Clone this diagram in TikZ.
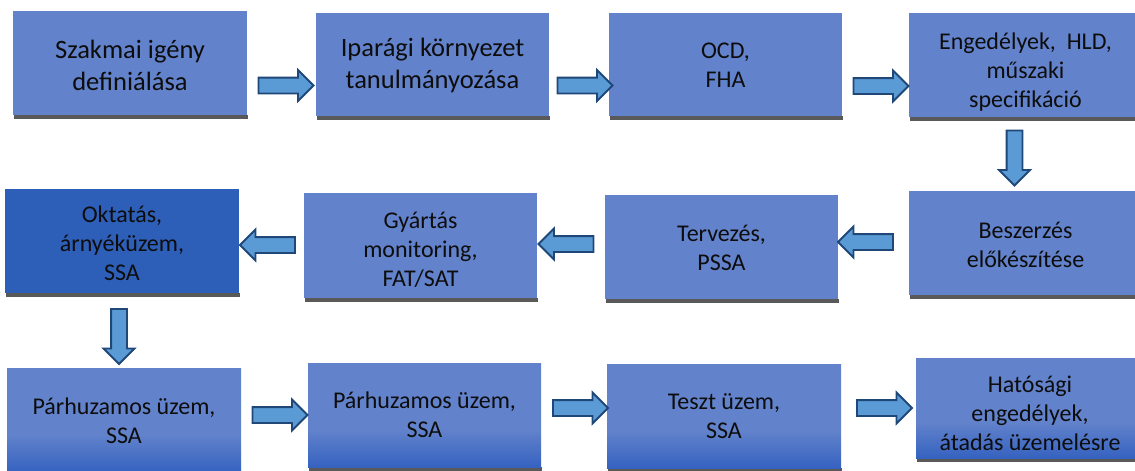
\documentclass[tikz,border=0pt]{standalone}
\usepackage{fontspec}
\setmainfont{Carlito}
\usetikzlibrary{shapes.arrows}
\definecolor{boxblue}{RGB}{98,130,203}
\definecolor{darkbox}{RGB}{46,95,184}
\definecolor{gbot}{RGB}{53,98,192}
\definecolor{arrowfill}{RGB}{91,155,213}
\definecolor{arrowline}{RGB}{31,72,120}
\definecolor{shadowc}{RGB}{89,89,89}
\definecolor{txtc}{RGB}{13,13,13}
\pgfdeclareverticalshading{rowthree}{100bp}{color(0bp)=(gbot); color(25bp)=(gbot); color(43bp)=(boxblue); color(100bp)=(boxblue)}
\tikzset{
  flowbox/.style={rectangle, fill=boxblue, draw=none, inner sep=0pt, anchor=north west},
  darkflow/.style={flowbox, fill=darkbox},
  gradflow/.style={flowbox, shading=rowthree},
  boxtext/.style={align=center, text=txtc, inner sep=0pt, font=\fontsize{24}{29}\selectfont},
  bigtext/.style={boxtext, font=\fontsize{26.5}{32}\selectfont},
  barrow/.style={single arrow, draw=arrowline, fill=arrowfill, line width=1.9pt,
     minimum height=55pt, inner xsep=0pt, inner ysep=7pt, single arrow head extend=7.5pt,
     single arrow tip angle=90},
}
\newcommand\mkbox[6]{%
  % #1 name, #2 style, #3 left, #4 top, #5 right, #6 bottom
  \fill[shadowc] (#3+1,#6) rectangle (#5+1,#6+4);
  \node[#2, minimum width={(#5-#3)*1pt}, minimum height={(#6-#4)*1pt}] (#1) at (#3,#4) {};
}
\begin{document}
\begin{tikzpicture}[x=1pt,y=-1pt]
\useasboundingbox (0,0) rectangle (1135,471);
\begin{scope}
\clip (0,0) rectangle (1135,471);
% row 1
\mkbox{b1}{flowbox}{13}{11}{247}{115}
\mkbox{b2}{flowbox}{316}{13}{549}{116}
\mkbox{b3}{flowbox}{609}{13}{842}{116}
\mkbox{b4}{flowbox}{909}{13}{1142}{117}
% row 2
\mkbox{b5}{darkflow}{5}{189}{239}{293}
\mkbox{b6}{flowbox}{304}{193}{537}{298}
\mkbox{b7}{flowbox}{605}{195}{838}{299}
\mkbox{b8}{flowbox}{909}{191}{1142}{295}
% row 3
\mkbox{b9}{gradflow}{7}{368}{241}{472}
\mkbox{b10}{gradflow}{308}{363}{541}{467}
\mkbox{b11}{gradflow}{607}{364}{841}{468}
\mkbox{b12}{gradflow}{916}{358}{1149}{458}
\end{scope}
% texts
\node[bigtext] (t1) at (130,65) {Szakmai igény\\definiálása};
\node[bigtext] (t2) at (432.5,65.5) {Iparági környezet\\tanulmányozása};
\node[boxtext] (t3) at (725.5,65) {OCD,\\FHA};
\node[boxtext] (t4) at (1025.5,72) {Engedélyek,\ \ HLD,\\műszaki\\specifikáció};
\node[boxtext] (t5) at (122,243.5) {Oktatás,\\árnyéküzem,\\SSA};
\node[boxtext] (t6) at (420.5,249.5) {Gyártás\\monitoring,\\FAT/SAT};
\node[boxtext] (t7) at (721.5,248) {Tervezés,\\PSSA};
\node[boxtext] (t8) at (1025.5,245) {Beszerzés\\előkészítése};
\node[boxtext] (t9) at (124,421) {Párhuzamos üzem,\\SSA};
\node[boxtext] (t10) at (424.5,415) {Párhuzamos üzem,\\SSA};
\node[boxtext] (t11) at (724,416.5) {Teszt üzem,\\SSA};
\node[boxtext] (t12) at (1030,413) {Hatósági\\engedélyek,\\átadás üzemelésre};
% arrows
\node[barrow] (a1) at (282,85.5) {};
\node[barrow] (a2) at (581,85.5) {};
\node[barrow] (a3) at (877,86) {};
\node[barrow, rotate=-90] (a4) at (1014.5,154) {};
\node[barrow, rotate=180] (a5) at (869.5,242) {};
\node[barrow, rotate=180] (a6) at (570,244) {};
\node[barrow, rotate=180] (a7) at (271.5,245) {};
\node[barrow, rotate=-90] (a8) at (119,332.5) {};
\node[barrow] (a9) at (276,415) {};
\node[barrow] (a10) at (576.5,408) {};
\node[barrow] (a11) at (880.5,408) {};
\end{tikzpicture}
\end{document}
